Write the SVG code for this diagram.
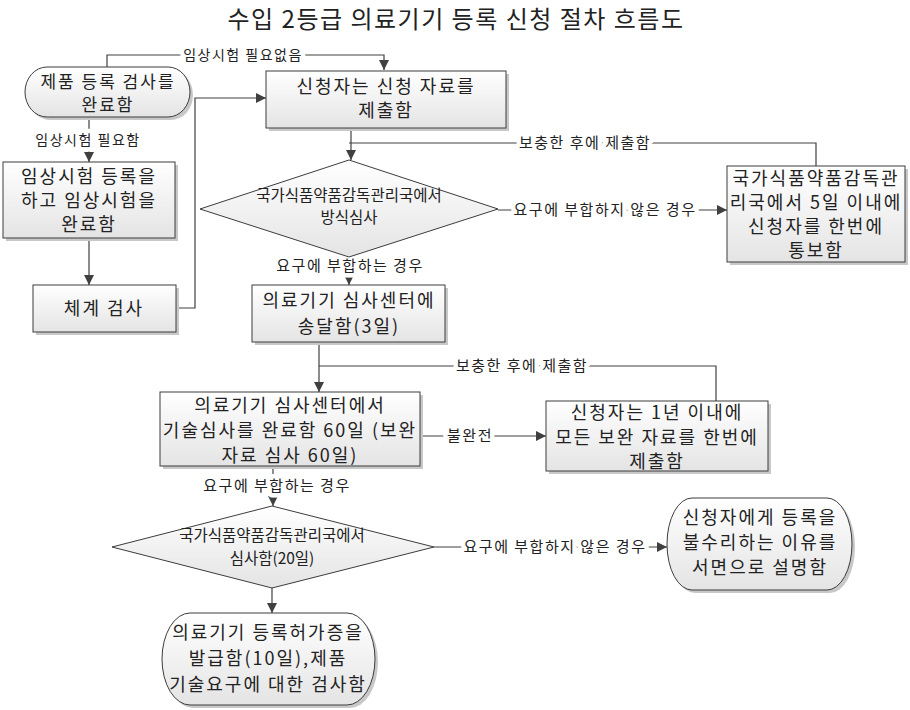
<svg xmlns="http://www.w3.org/2000/svg" width="910" height="710" viewBox="0 0 910 710">
<defs>
<linearGradient id="g" x1="0" y1="0" x2="0" y2="1">
<stop offset="0" stop-color="#ffffff"/>
<stop offset="1" stop-color="#e4e4e4"/>
</linearGradient>
<marker id="ar" viewBox="0 0 10 10" refX="10" refY="5" markerWidth="10" markerHeight="10" markerUnits="userSpaceOnUse" orient="auto">
<path d="M0,0 L10,5 L0,10 z" fill="#404040"/>
</marker>
</defs>
<style>
.n{fill:url(#g);stroke:#3c3c3c;stroke-width:1}
.sh{fill:#c8c8c8;stroke:none}
.t{font-family:"Noto Sans CJK KR","Noto Sans",sans-serif;font-size:18px;fill:#222;text-anchor:middle;letter-spacing:2px}
.s{font-size:17px}
.d{font-family:"Noto Sans CJK KR","Noto Sans",sans-serif;font-size:15.5px;fill:#222;text-anchor:middle}
.l{font-family:"Noto Sans CJK KR","Noto Sans",sans-serif;font-size:15px;fill:#222;text-anchor:middle;stroke:#fff;stroke-width:9px;stroke-linejoin:round;paint-order:stroke;letter-spacing:1.5px}
.m{font-size:14px}
.c{fill:none;stroke:#404040;stroke-width:1.2}
.title{font-family:"Noto Sans CJK KR","Noto Sans",sans-serif;font-size:24px;fill:#222;text-anchor:middle;letter-spacing:1.5px}
</style>
<rect width="910" height="710" fill="#fff"/>
<text class="title" x="456" y="28">수입 2등급 의료기기 등록 신청 절차 흐름도</text>

<g id="connectors">
<path class="c" d="M107,67 V55 H384 V70" marker-end="url(#ar)"/>
<path class="c" d="M89,118 V162" marker-end="url(#ar)"/>
<path class="c" d="M89,238 V285" marker-end="url(#ar)"/>
<path class="c" d="M176,308 H195 V98 H266" marker-end="url(#ar)"/>
<path class="c" d="M351,128 V160" marker-end="url(#ar)"/>
<path class="c" d="M816,166 V143 H349"/>
<path class="c" d="M498,210 H727" marker-end="url(#ar)"/>
<path class="c" d="M349,257 V285" marker-end="url(#ar)"/>
<path class="c" d="M319,342 V392" marker-end="url(#ar)"/>
<path class="c" d="M716,401 V366 H319"/>
<path class="c" d="M420,436 H546" marker-end="url(#ar)"/>
<path class="c" d="M273,466 V506" marker-end="url(#ar)"/>
<path class="c" d="M434,547 H667" marker-end="url(#ar)"/>
<path class="c" d="M272,588 V613" marker-end="url(#ar)"/>
<text class="l m" x="243" y="60">임상시험 필요없음</text>
<text class="l m" x="88" y="145">임상시험 필요함</text>
<text class="l" x="585" y="148">보충한 후에 제출함</text>
<text class="l" x="605" y="215">요구에 부합하지 않은 경우</text>
<text class="l" x="350" y="271">요구에 부합하는 경우</text>
<text class="l" x="522" y="371">보충한 후에 제출함</text>
<text class="l" x="470" y="441">불완전</text>
<text class="l" x="277" y="491">요구에 부합하는 경우</text>
<text class="l" x="555" y="552">요구에 부합하지 않은 경우</text>
</g>

<g id="n1">
<rect class="sh" x="28" y="70" width="165" height="50" rx="22" ry="25"/>
<rect class="n" x="25" y="67" width="165" height="50" rx="22" ry="25"/>
<text class="t s" x="108" y="88">제품 등록 검사를</text>
<text class="t s" x="108" y="111">완료함</text>
</g>
<g id="n2">
<rect class="sh" x="269" y="74" width="240" height="57"/>
<rect class="n" x="266" y="71" width="240" height="57"/>
<text class="t" x="386" y="93">신청자는 신청 자료를</text>
<text class="t" x="386" y="117">제출함</text>
</g>
<g id="n3">
<rect class="sh" x="6" y="165" width="172" height="76"/>
<rect class="n" x="3" y="162" width="172" height="76"/>
<text class="t" x="89" y="183">임상시험 등록을</text>
<text class="t" x="89" y="207">하고 임상시험을</text>
<text class="t" x="89" y="231">완료함</text>
</g>
<g id="n4">
<rect class="sh" x="36" y="288" width="143" height="47"/>
<rect class="n" x="33" y="285" width="143" height="47"/>
<text class="t" x="104" y="315">체계 검사</text>
</g>
<g id="n5">
<polygon class="n" points="349,160 498,209 349,257 200,209"/>
<text class="d" x="349" y="201">국가식품약품감독관리국에서</text>
<text class="d" x="349" y="223">방식심사</text>
</g>
<g id="n6">
<rect class="sh" x="730" y="169" width="178" height="96"/>
<rect class="n" x="727" y="166" width="178" height="96"/>
<text class="t" x="816" y="185">국가식품약품감독관</text>
<text class="t" x="816" y="209">리국에서 5일 이내에</text>
<text class="t" x="816" y="233">신청자를 한번에</text>
<text class="t" x="816" y="257">통보함</text>
</g>
<g id="n7">
<rect class="sh" x="255" y="288" width="193" height="57"/>
<rect class="n" x="252" y="285" width="193" height="57"/>
<text class="t" x="349" y="307">의료기기 심사센터에</text>
<text class="t" x="349" y="333">송달함(3일)</text>
</g>
<g id="n8">
<rect class="sh" x="163" y="395" width="260" height="74"/>
<rect class="n" x="160" y="392" width="260" height="74"/>
<text class="t" x="290" y="412">의료기기 심사센터에서</text>
<text class="t" x="290" y="437">기술심사를 완료함 60일 (보완</text>
<text class="t" x="290" y="462">자료 심사 60일)</text>
</g>
<g id="n9">
<rect class="sh" x="549" y="404" width="222" height="70"/>
<rect class="n" x="546" y="401" width="222" height="70"/>
<text class="t" x="657" y="419">신청자는 1년 이내에</text>
<text class="t" x="657" y="444">모든 보완 자료를 한번에</text>
<text class="t" x="657" y="468">제출함</text>
</g>
<g id="n10">
<polygon class="n" points="272,506 434,547 272,588 112,547"/>
<text class="d" x="272" y="541">국가식품약품감독관리국에서</text>
<text class="d" x="272" y="564">심사함(20일)</text>
</g>
<g id="n11">
<rect class="sh" x="670" y="501" width="185" height="92" rx="25" ry="46"/>
<rect class="n" x="667" y="498" width="185" height="92" rx="25" ry="46"/>
<text class="t" x="760" y="524">신청자에게 등록을</text>
<text class="t" x="760" y="549">불수리하는 이유를</text>
<text class="t" x="760" y="574">서면으로 설명함</text>
</g>
<g id="n12">
<rect class="sh" x="165" y="616" width="213" height="92" rx="28" ry="46"/>
<rect class="n" x="162" y="613" width="213" height="92" rx="28" ry="46"/>
<text class="t" x="268" y="639">의료기기 등록허가증을</text>
<text class="t" x="268" y="665">발급함(10일),제품</text>
<text class="t" x="268" y="691">기술요구에 대한 검사함</text>
</g>
</svg>
